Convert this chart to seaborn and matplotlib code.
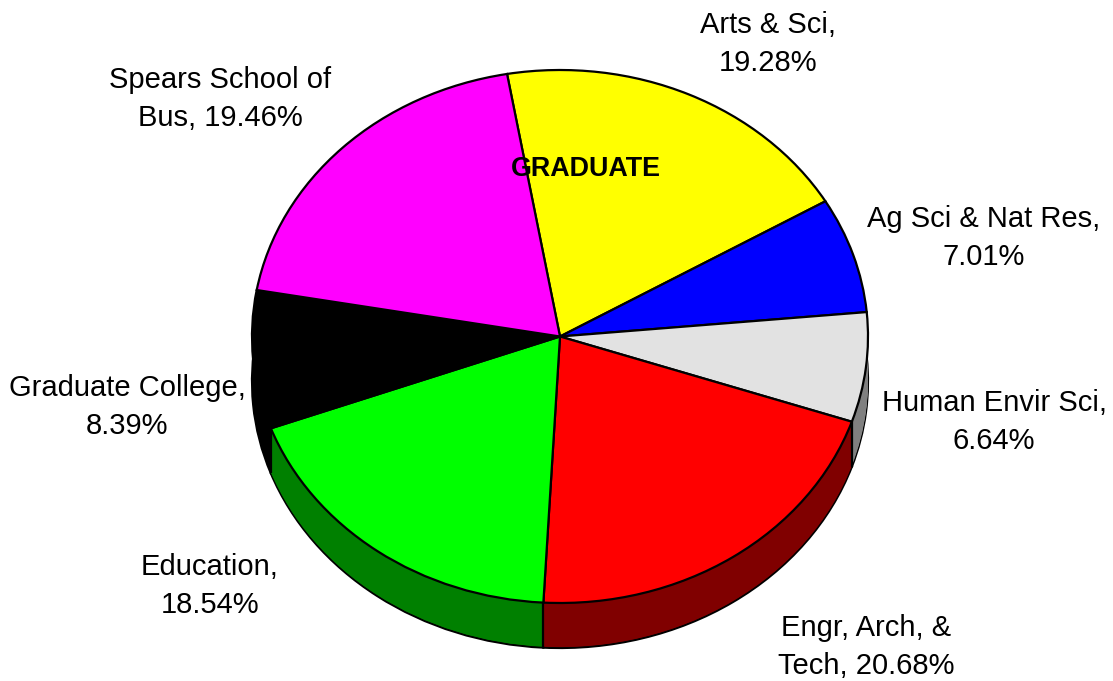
import numpy as np
import matplotlib
matplotlib.use("Agg")
import matplotlib.pyplot as plt
import seaborn as sns

# data
departments = ["Arts & Sci,\n19.28%", "Ag Sci & Nat Res,\n7.01%", "Human Envir Sci,\n6.64%",
               "Engr, Arch, &\nTech, 20.68%", "Education,\n18.54%", "Graduate College,\n8.39%",
               "Spears School of\nBus, 19.46%"]
shares = [19.28, 7.01, 6.64, 20.68, 18.54, 8.39, 19.46]
top_colors = ["#ffff00", "#0000ff", "#e2e2e2", "#ff0000", "#00ff00", "#000000", "#ff00ff"]
side_colors = ["#808000", "#000080", "#808080", "#800000", "#008000", "#000000", "#800080"]

# layout in pixels
W, H = 1113, 681
cx, cy = 560, 336.5
rx, ry = 308, 266.5
depth = 45 / ry
start = 99.9
label_px = [(768, 44), (984, 238), (994, 422), (866, 647), (210, 586), (127, 407), (220, 99)]

sns.set_theme(style="white")
plt.rcParams["font.family"] = ["Liberation Sans", "DejaVu Sans"]

fig = plt.figure(figsize=(W / 100, H / 100), dpi=100)
ax = fig.add_axes([0, 0, 1, 1])

# side wall, stacked copies of the pie going up
for d in np.linspace(depth, 0.004, 50):
    edge = {"edgecolor": "black", "linewidth": 1.6} if d == depth else {"linewidth": 0}
    ax.pie(shares, colors=side_colors, startangle=start, counterclock=False,
           center=(0, -d), wedgeprops=edge)

# vertical edges where front slices meet
ends = start - np.cumsum(shares) * 3.6
for a in ends:
    if np.sin(np.radians(a)) < 0:
        x = np.cos(np.radians(a))
        y = np.sin(np.radians(a))
        ax.plot([x, x], [y, y - depth], color="black", lw=1.6, solid_capstyle="butt")

ax.pie(shares, colors=top_colors, startangle=start, counterclock=False,
       wedgeprops={"edgecolor": "black", "linewidth": 1.6})

ax.set_aspect("auto")
ax.set_xlim(-cx / rx, (W - cx) / rx)
ax.set_ylim(-(H - cy) / ry, cy / ry)
ax.axis("off")

def to_data(px, py):
    return (px - cx) / rx, (cy - py) / ry

for name, (px, py) in zip(departments, label_px):
    x, y = to_data(px, py)
    ax.text(x, y, name, ha="center", va="center", fontsize=21, color="black", linespacing=1.43)

x, y = to_data(586, 168.5)
ax.text(x, y, "GRADUATE", ha="center", va="center", fontsize=19.4, fontweight="bold", color="black")

fig.savefig("out.png", dpi=100, facecolor="white")
